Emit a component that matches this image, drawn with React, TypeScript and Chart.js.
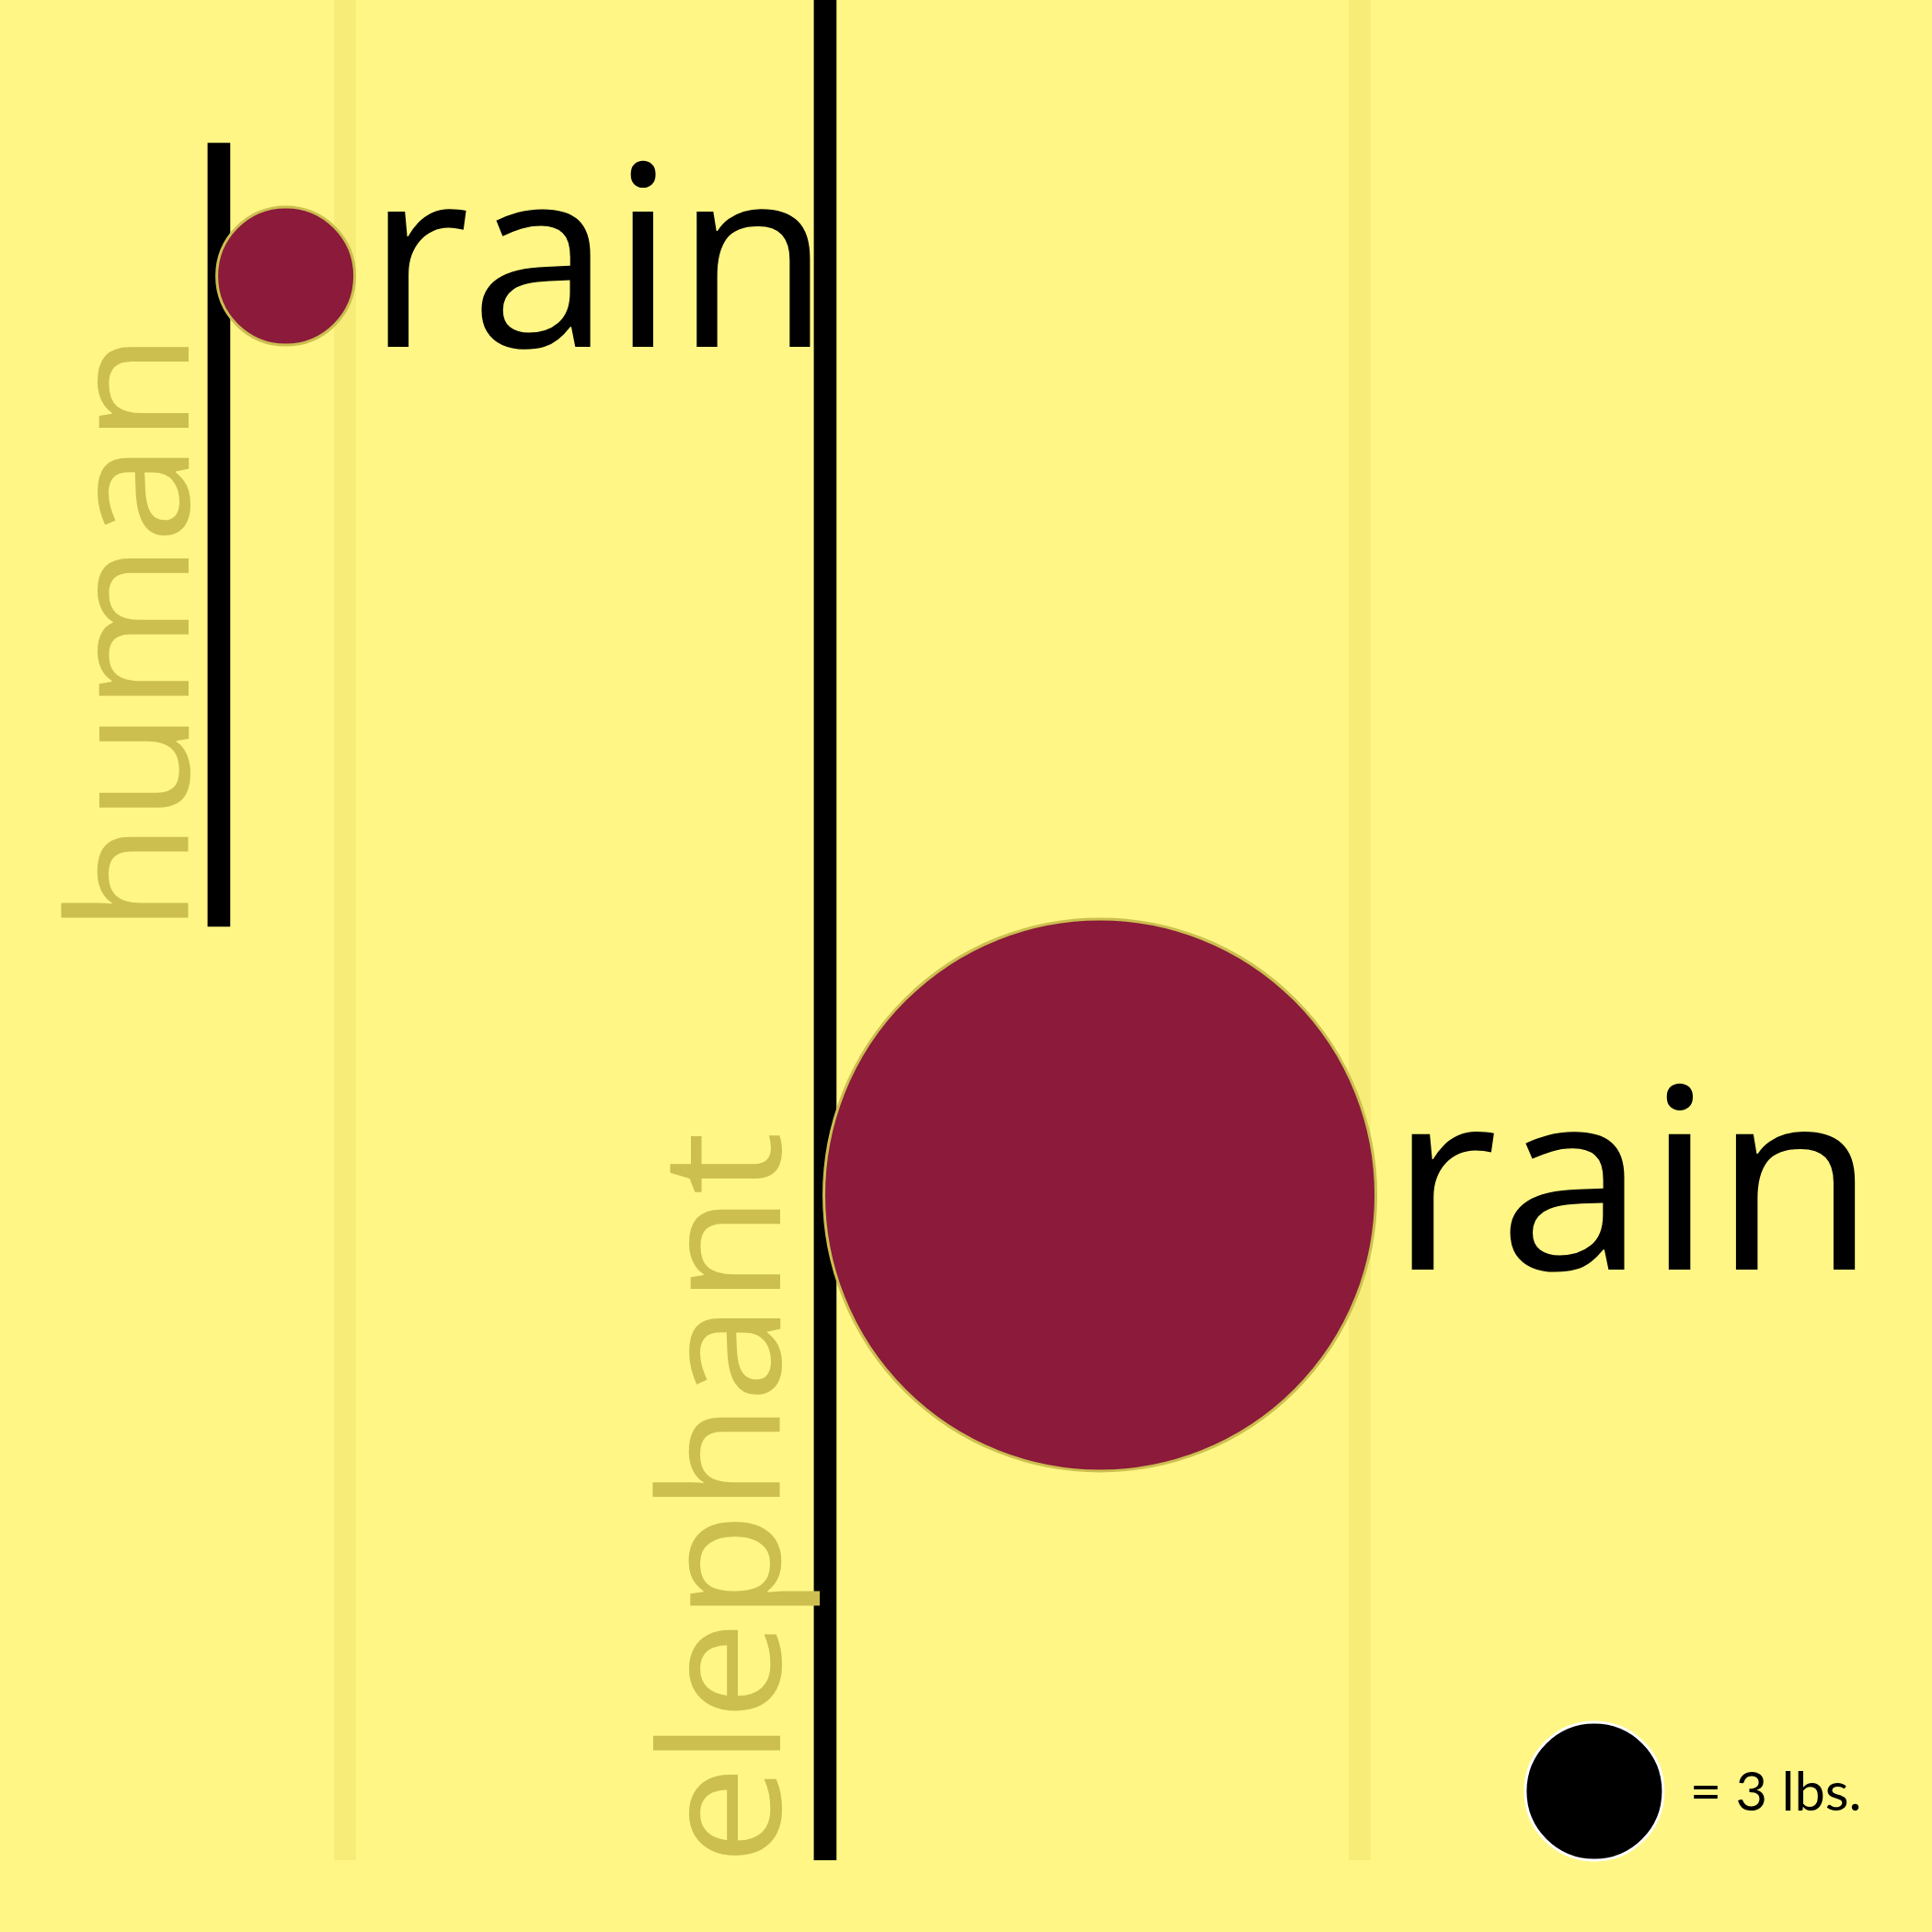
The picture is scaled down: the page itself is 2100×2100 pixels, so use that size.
import React, { useEffect, useRef } from "react";
import { Chart, registerables } from "chart.js";

Chart.register(...registerables);

// ---- data ----
const animals = ["human", "elephant"];
const brainLbs = [3, 12];
// bubble centres (x: position units 0..10, y: height units 0..10)
const brainX = [1.479, 5.693];
const brainY = [8.516, 3.576];
// black stems (the "b" ascenders)
const stemX = [1.133, 4.271];
const stemLow = [5.02, 0];
const stemHigh = [9.23, 10];
// faint vertical bands
const bandX = [1.786, 7.038];
// key
const keyLbs = [3];
const keyX = [8.252];
const keyY = [0.371];
const keyText = "= 3 lbs.";
const wordTail = "rain";

const PX_PER_LB = 25;

const BG = "#FFF685";
const BAND = "#F8EC79";
const CRIMSON = "#8B1A3B";
const OLIVE = "#CCBF50";

function drawFitted(ctx: any, text: string, width: number) {
  const m = ctx.measureText(text);
  const ink = m.actualBoundingBoxLeft + m.actualBoundingBoxRight;
  const s = width / ink;
  ctx.scale(s, 1);
  ctx.fillText(text, m.actualBoundingBoxLeft, 0);
}

const textPlugin = {
  id: "brainText",
  afterDatasetsDraw(chart: any) {
    const ctx = chart.ctx;
    const bubbles = chart.getDatasetMeta(0).data;
    const stems = chart.getDatasetMeta(1).data;
    const keys = chart.getDatasetMeta(2).data;
    ctx.save();
    ctx.textBaseline = "alphabetic";
    ctx.textAlign = "left";
    // "rain" after each bubble
    const tailGap = [34, 37];
    const tailDrop = [77, 81];
    const tailWidth = [465, 488];
    ctx.fillStyle = "#000";
    ctx.font = `400 275px "Open Sans"`;
    bubbles.forEach((el: any, i: number) => {
      const r = el.options.radius;
      ctx.save();
      ctx.translate(el.x + r + tailGap[i], el.y + tailDrop[i]);
      drawFitted(ctx, wordTail, tailWidth[i]);
      ctx.restore();
    });
    // rotated animal names beside stems
    const nameGap = [21, 37];
    const nameRise = [9, 5];
    const nameLen = [621, 783];
    ctx.fillStyle = OLIVE;
    ctx.font = `400 182px "Open Sans"`;
    stems.forEach((el: any, i: number) => {
      const left = el.x - el.width / 2;
      ctx.save();
      ctx.translate(left - nameGap[i], el.base - nameRise[i]);
      ctx.rotate(-Math.PI / 2);
      drawFitted(ctx, animals[i], nameLen[i]);
      ctx.restore();
    });
    // key label
    ctx.fillStyle = "#000";
    ctx.font = `400 58px Lato`;
    keys.forEach((el: any) => {
      ctx.save();
      ctx.translate(el.x + el.options.radius + 33, el.y + 21);
      drawFitted(ctx, keyText, 180);
      ctx.restore();
    });
    ctx.restore();
  },
};

export default function App() {
  const ref = useRef<HTMLCanvasElement>(null);
  useEffect(() => {
    if (!ref.current) return;
    const chart = new Chart(ref.current, {
      type: "bar",
      data: {
        datasets: [
          {
            type: "bubble",
            label: "brain weight",
            order: 0,
            data: animals.map((a, i) => ({ x: brainX[i], y: brainY[i], r: brainLbs[i] * PX_PER_LB })),
            backgroundColor: CRIMSON,
            borderColor: OLIVE,
            borderWidth: 3,
            clip: false as any,
          },
          {
            type: "bar",
            label: "stems",
            order: 1,
            data: animals.map((a, i) => ({ x: stemX[i], y: [stemLow[i], stemHigh[i]] })) as any,
            backgroundColor: "#000",
            barThickness: 24,
            borderWidth: 0,
          },
          {
            type: "bubble",
            label: "key",
            order: 0,
            data: keyLbs.map((l, i) => ({ x: keyX[i], y: keyY[i], r: l * PX_PER_LB })),
            backgroundColor: "#000",
            borderColor: "#FFFFFF",
            borderWidth: 3,
            clip: false as any,
          },
        ] as any,
      },
      options: {
        responsive: false,
        animation: false,
        devicePixelRatio: 1,
        layout: { autoPadding: false, padding: { left: 0, right: 0, top: 0, bottom: 78 } },
        plugins: { legend: { display: false }, tooltip: { enabled: false } },
        events: [],
        scales: {
          x: {
            type: "linear",
            min: 0,
            max: 10,
            offset: false,
            afterBuildTicks: (scale: any) => {
              scale.ticks = bandX.map((v) => ({ value: v }));
            },
            ticks: { display: false },
            border: { display: false },
            grid: { offset: false, drawTicks: false, color: BAND, lineWidth: 24 },
          },
          y: {
            type: "linear",
            min: 0,
            max: 10,
            ticks: { display: false },
            border: { display: false },
            grid: { display: false, drawTicks: false },
          },
        },
      } as any,
      plugins: [textPlugin],
    });
    return () => chart.destroy();
  }, []);
  return (
    <div style={{ position: "absolute", left: 0, top: 0, width: 2100, height: 2100, background: BG }}>
      <canvas ref={ref} width={2100} height={2100} style={{ display: "block" }} />
    </div>
  );
}
